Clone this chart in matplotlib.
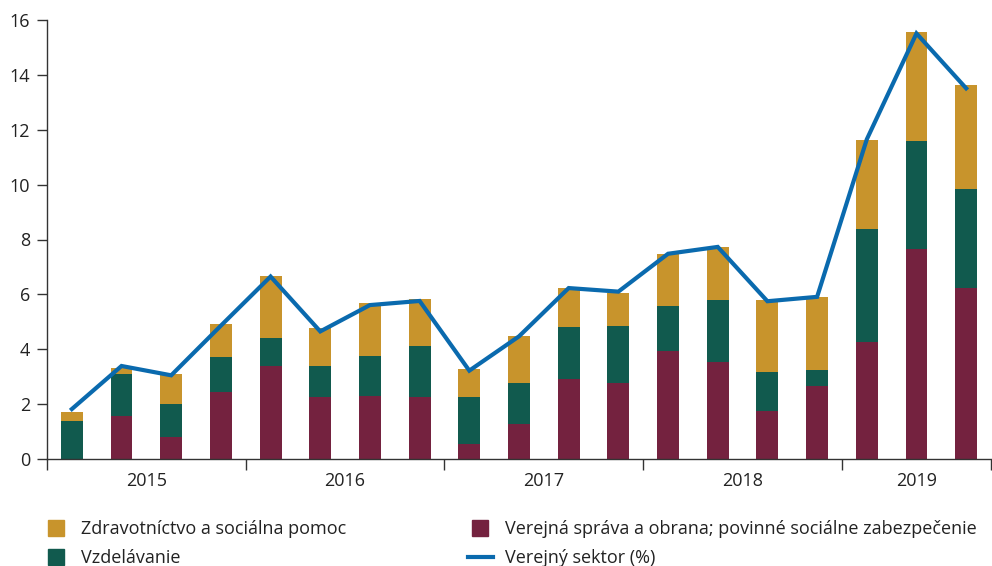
import numpy as np
from matplotlib import pyplot as plt
from matplotlib.lines import Line2D

plt.rcParams['font.family'] = ['Open Sans', 'DejaVu Sans']

years = ['2015', '2016', '2017', '2018', '2019']
quarters_per_year = [4, 4, 4, 4, 3]

# (percentage points, stacked)
verejna_sprava = [0.00, 1.58, 0.81, 2.45, 3.40, 2.27, 2.31, 2.25, 0.56, 1.29,
                  2.90, 2.77, 3.92, 3.54, 1.75, 2.67, 4.28, 7.66, 6.25]
vzdelavanie = [1.40, 1.53, 1.20, 1.28, 1.02, 1.13, 1.45, 1.88, 1.71, 1.49,
               1.92, 2.08, 1.66, 2.26, 1.43, 0.58, 4.11, 3.93, 3.59]
zdravotnictvo = [0.32, 0.22, 1.10, 1.20, 2.25, 1.38, 1.93, 1.71, 1.02, 1.71,
                 1.42, 1.21, 1.90, 1.93, 2.62, 2.66, 3.24, 3.97, 3.79]
verejny_sektor = [1.82, 3.39, 3.05, 4.86, 6.65, 4.65, 5.61, 5.76, 3.22, 4.47,
                  6.23, 6.10, 7.48, 7.73, 5.75, 5.91, 11.65, 15.51, 13.51]

c_red = '#74223F'
c_green = '#115A4E'
c_gold = '#C8942C'
c_blue = '#0A6AAE'
c_axis = '#333333'

fig = plt.figure(figsize=(9.92, 5.66), dpi=100)
ax = fig.add_axes([47/992, 107/566, 944/992, 439/566])

x = np.arange(len(verejna_sprava)) + 0.5
red = np.array(verejna_sprava)
green = np.array(vzdelavanie)
gold = np.array(zdravotnictvo)

w = 0.44
ax.bar(x, red, w, color=c_red, zorder=2)
ax.bar(x, green, w, bottom=red, color=c_green, zorder=2)
ax.bar(x, gold, w, bottom=red + green, color=c_gold, zorder=2)
ax.plot(x, verejny_sektor, color=c_blue, lw=3, zorder=3, solid_joinstyle='miter')

ax.set_xlim(0, len(x))
ax.set_ylim(0, 16)
ax.set_yticks(range(0, 17, 2))
ax.tick_params(axis='y', length=7, width=1, color=c_axis, labelsize=13,
               labelcolor='#222222', pad=5)

edges = np.concatenate([[0], np.cumsum(quarters_per_year)])
ax.set_xticks(edges)
ax.set_xticklabels([])
ax.set_xticks((edges[:-1] + edges[1:]) / 2, years, minor=True)
ax.tick_params(axis='x', which='major', length=8, width=1, color=c_axis)
ax.tick_params(axis='x', which='minor', length=0, labelsize=13,
               labelcolor='#222222', pad=9)

for s in ['top', 'right']:
    ax.spines[s].set_visible(False)
for s in ['left', 'bottom']:
    ax.spines[s].set_color(c_axis)
    ax.spines[s].set_linewidth(1)

handles = [
    Line2D([], [], marker='s', markersize=11, linestyle='none', color=c_gold),
    Line2D([], [], marker='s', markersize=11, linestyle='none', color=c_green),
    Line2D([], [], marker='s', markersize=11, linestyle='none', color=c_red),
    Line2D([], [], color=c_blue, lw=3),
]
labels = ['Zdravotníctvo a sociálna pomoc', 'Vzdelávanie',
          'Verejná správa a obrana; povinné sociálne zabezpečenie',
          'Verejný sektor (%)']
fig.legend(handles, labels, ncol=2, loc='upper left',
           bbox_to_anchor=(0.028, 0.11), frameon=False, fontsize=13,
           handlelength=1.35, handletextpad=0.7, columnspacing=6.75,
           labelspacing=0.6, labelcolor='#222222')

fig.savefig('out.png', dpi=100)
